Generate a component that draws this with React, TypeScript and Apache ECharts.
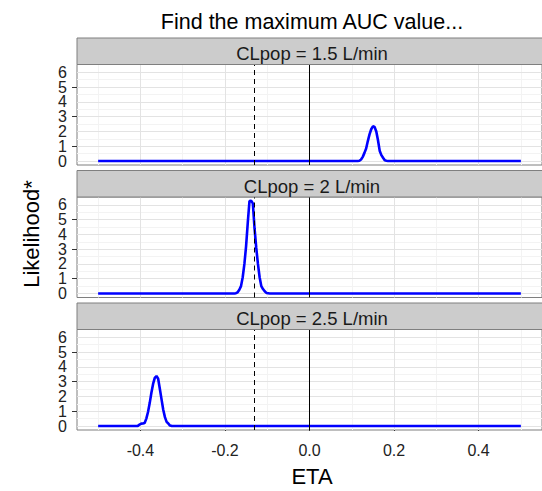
import React, { useEffect, useRef } from "react";
import * as echarts from "echarts";

// ---- data ----
const panelLabels = ["CLpop = 1.5 L/min", "CLpop = 2 L/min", "CLpop = 2.5 L/min"];

const eta1 = [-0.5, 0.114, 0.118, 0.122, 0.126, 0.13, 0.134, 0.138, 0.142, 0.146, 0.15, 0.154, 0.158, 0.162, 0.166, 0.17, 0.174, 0.178, 0.182, 0.186, 0.5];
const lik1 = [0, 0, 0.02, 0.1, 0.28, 0.55, 0.85, 1.35, 1.8, 2.15, 2.35, 2.3, 2.0, 1.4, 0.7, 0.4, 0.22, 0.05, 0.02, 0, 0];

const eta2 = [-0.5, -0.178, -0.174, -0.17, -0.166, -0.162, -0.158, -0.154, -0.15, -0.146, -0.142, -0.138, -0.134, -0.13, -0.126, -0.122, -0.118, -0.114, -0.11, -0.106, -0.102, -0.098, -0.094, 0.5];
const lik2 = [0, 0, 0.02, 0.08, 0.25, 0.5, 1.1, 2.0, 3.2, 4.8, 6.25, 6.27, 6.1, 4.4, 3.1, 2.0, 1.1, 0.5, 0.3, 0.15, 0.04, 0.02, 0, 0];

const eta3 = [-0.5, -0.41, -0.406, -0.402, -0.398, -0.394, -0.39, -0.386, -0.382, -0.378, -0.374, -0.37, -0.366, -0.362, -0.358, -0.354, -0.35, -0.346, -0.342, -0.338, -0.334, -0.33, -0.326, -0.322, 0.5];
const lik3 = [0, 0, 0.01, 0.1, 0.16, 0.17, 0.2, 0.5, 0.95, 1.55, 2.25, 2.85, 3.25, 3.38, 3.2, 2.5, 1.8, 1.1, 0.6, 0.28, 0.17, 0.03, 0.01, 0, 0];

const etaData = [eta1, eta2, eta3];
const likData = [lik1, lik2, lik3];

const xTicks = [-0.4, -0.2, 0, 0.2, 0.4];
const xMinor = [-0.5, -0.3, -0.1, 0.1, 0.3, 0.5];
const yTicks = [0, 1, 2, 3, 4, 5, 6];
const yTicksEven = [0, 2, 4, 6];
const yTicksOdd = [1, 3, 5];
const yMinor = [0.5, 1.5, 2.5, 3.5, 4.5, 5.5];
const dashedEta = -0.134;
const solidEta = 0;

const FONT = "'Liberation Sans', Arial, sans-serif";

export default function App() {
  const ref = useRef<HTMLDivElement>(null);
  useEffect(() => {
    document.body.style.margin = "0";
    const chart = echarts.init(ref.current!, null, { renderer: "svg" });

    const left = 77;
    const width = 471;
    const stripTops = [38, 170.5, 303];
    const stripH = 26.5;
    const plotH = 100.5;

    const grids: any[] = [];
    const xAxes: any[] = [];
    const yAxes: any[] = [];
    const series: any[] = [];
    const graphics: any[] = [];

    const makeY = (gridIndex: number, vals: number[]) => ({
      gridIndex,
      type: "value",
      position: "left",
      offset: 0,
      min: -0.27,
      max: 6.53,
      axisLine: { show: false },
      splitLine: { show: false },
      axisTick: {
        show: true,
        length: 5,
        customValues: vals,
        lineStyle: { color: "#333333", width: 1 },
      },
      axisLabel: {
        customValues: vals,
        showMinLabel: true,
        showMaxLabel: true,
        margin: 10,
        fontSize: 16,
        color: "#222222",
        fontFamily: FONT,
      },
    });

    for (let i = 0; i < 3; i++) {
      const top = stripTops[i] + stripH;
      grids.push({
        left,
        top,
        width,
        height: plotH,
        show: true,
        backgroundColor: "#ffffff",
        borderColor: "#7f7f7f",
        borderWidth: 1,
      });
      const isBottom = i === 2;
      xAxes.push({
        gridIndex: i,
        type: "value",
        min: -0.55,
        max: 0.55,
        axisLine: { show: false },
        splitLine: { show: false },
        axisTick: {
          show: isBottom,
          length: 5,
          customValues: xTicks,
          lineStyle: { color: "#333333", width: 1 },
        },
        axisLabel: {
          show: isBottom,
          customValues: xTicks,
          showMinLabel: true,
          showMaxLabel: true,
          margin: 12,
          fontSize: 16,
          color: "#222222",
          fontFamily: FONT,
          formatter: (v: number) => v.toFixed(1),
        },
      });
      yAxes.push(makeY(i, yTicksEven));
      yAxes.push(makeY(i, yTicksOdd));
      const yIdx = 2 * i;

      const gridLines: any[] = [];
      xMinor.forEach((v) => gridLines.push({ xAxis: v, lineStyle: { color: "#f3f3f3", width: 1, type: "solid" } }));
      yMinor.forEach((v) => gridLines.push({ yAxis: v, lineStyle: { color: "#f3f3f3", width: 1, type: "solid" } }));
      xTicks.forEach((v) => gridLines.push({ xAxis: v, lineStyle: { color: "#e3e3e3", width: 1, type: "solid" } }));
      yTicks.forEach((v) => gridLines.push({ yAxis: v, lineStyle: { color: "#e3e3e3", width: 1, type: "solid" } }));

      series.push({
        type: "line",
        xAxisIndex: i,
        yAxisIndex: yIdx,
        data: [[0, 0]],
        showSymbol: false,
        symbol: "none",
        lineStyle: { opacity: 0 },
        silent: true,
        z: 1,
        markLine: {
          z: 1,
          silent: true,
          symbol: ["none", "none"],
          label: { show: false },
          animation: false,
          data: gridLines,
        },
      });

      series.push({
        type: "line",
        xAxisIndex: i,
        yAxisIndex: yIdx,
        data: etaData[i].map((e, k) => [e, likData[i][k]]),
        showSymbol: false,
        symbol: "none",
        lineStyle: { color: "#0000ff", width: 2.6 },
        z: 3,
      });

      series.push({
        type: "line",
        xAxisIndex: i,
        yAxisIndex: yIdx,
        data: [[0, 0]],
        showSymbol: false,
        symbol: "none",
        lineStyle: { opacity: 0 },
        silent: true,
        z: 4,
        markLine: {
          z: 6,
          silent: true,
          symbol: ["none", "none"],
          label: { show: false },
          animation: false,
          data: [
            { xAxis: dashedEta, lineStyle: { color: "#000000", width: 1, type: [5, 4] } },
            { xAxis: solidEta, lineStyle: { color: "#000000", width: 1, type: "solid" } },
          ],
        },
      });

      graphics.push({
        type: "rect",
        shape: { x: left, y: stripTops[i], width, height: stripH },
        style: { fill: "#cccccc", stroke: "#7f7f7f", lineWidth: 1 },
        z: 10,
      });
      graphics.push({
        type: "text",
        x: left + width / 2 - 0.5,
        y: stripTops[i] + 15.5,
        style: {
          text: panelLabels[i],
          align: "center",
          verticalAlign: "middle",
          fontSize: 18.5,
          fontFamily: FONT,
          fill: "#1a1a1a",
        },
        z: 11,
      });
    }

    graphics.push({
      type: "text",
      x: 312,
      y: 21.7,
      style: {
        text: "Find the maximum AUC value...",
        align: "center",
        verticalAlign: "middle",
        fontSize: 21.5,
        fontFamily: FONT,
        fill: "#000000",
      },
      z: 11,
    });
    graphics.push({
      type: "text",
      x: 312,
      y: 476.7,
      style: {
        text: "ETA",
        align: "center",
        verticalAlign: "middle",
        fontSize: 22,
        fontFamily: FONT,
        fill: "#000000",
      },
      z: 11,
    });
    graphics.push({
      type: "text",
      x: 31,
      y: 234,
      rotation: Math.PI / 2,
      style: {
        text: "Likelihood*",
        align: "center",
        verticalAlign: "middle",
        fontSize: 22,
        fontFamily: FONT,
        fill: "#000000",
      },
      z: 11,
    });

    chart.setOption({
      animation: false,
      backgroundColor: "#ffffff",
      grid: grids,
      xAxis: xAxes,
      yAxis: yAxes,
      series,
      graphic: graphics,
    });
    return () => chart.dispose();
  }, []);

  return (
    <div
      ref={ref}
      style={{ position: "fixed", left: 0, top: 0, width: 542, height: 491 }}
    />
  );
}
